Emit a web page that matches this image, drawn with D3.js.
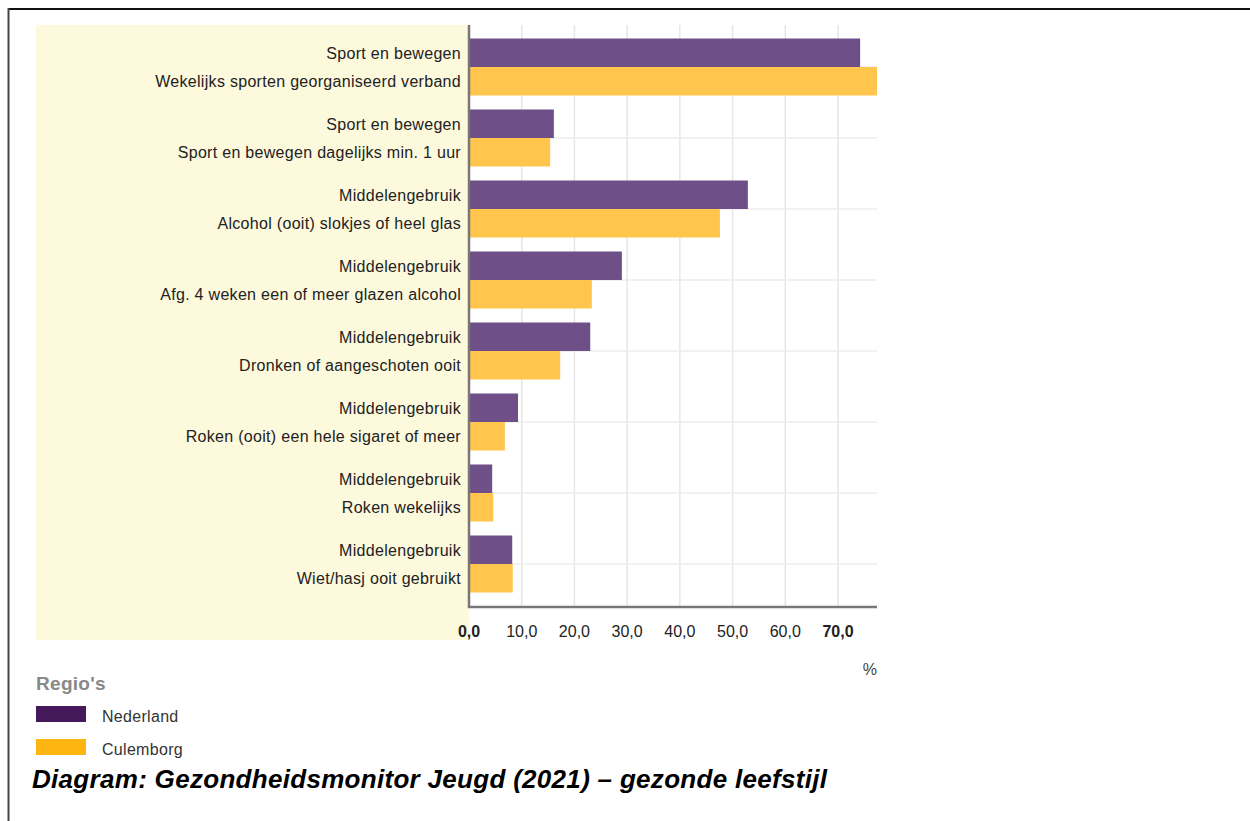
<html>
  <head>
   <script src="https://d3js.org/d3.v7.min.js"></script>
   <style>
    body{
    	margin:0;
    	background:#fff;
    }
    text{
    	font-family:"Liberation Sans", Arial, sans-serif;
    }
   </style>
  </head>
  <body>
  <div id="graph"></div>
   <script>
     var themes = ["Sport en bewegen","Sport en bewegen","Middelengebruik","Middelengebruik","Middelengebruik","Middelengebruik","Middelengebruik","Middelengebruik"];
     var indicators = ["Wekelijks sporten georganiseerd verband","Sport en bewegen dagelijks min. 1 uur","Alcohol (ooit) slokjes of heel glas","Afg. 4 weken een of meer glazen alcohol","Dronken of aangeschoten ooit","Roken (ooit) een hele sigaret of meer","Roken wekelijks","Wiet/hasj ooit gebruikt"];
     var regions = ["Nederland","Culemborg"];
     var nederland = [74.2, 16.1, 52.9, 29.0, 23.0, 9.3, 4.4, 8.2];
     var culemborg = [77.4, 15.4, 47.6, 23.3, 17.3, 6.8, 4.6, 8.3];
     var ticks = [0,10,20,30,40,50,60,70];

     var legendColor = ["#45195a","#ffb511"];
     var barColor = ["#6f4f87","#ffc54d"];

     var width = 1250, height = 821;
     var plotLeft = 469, plotRight = 877, plotTop = 25, axisY = 607;

     var svg = d3.select("#graph")
       .append('svg')
       .attr('width', width)
       .attr('height', height);

     // frame
     svg.append('line').attr('x1',8).attr('x2',width).attr('y1',9).attr('y2',9)
        .style('stroke','#111').style('stroke-width',2);
     svg.append('line').attr('x1',8.5).attr('x2',8.5).attr('y1',8).attr('y2',height)
        .style('stroke','#444').style('stroke-width',2);

     // label background
     svg.append('rect').attr('x',36).attr('y',plotTop).attr('width',plotLeft-36).attr('height',640-plotTop)
        .attr('fill','#fdf9dc');

     var x = d3.scaleLinear().domain([0,77.4]).range([plotLeft,plotRight]);
     var y = d3.scaleBand().domain(d3.range(themes.length)).range([31.5,599.5]);
     var ySub = d3.scaleBand().domain(regions).range([7, 64]);

     // vertical gridlines
     svg.append('g').selectAll('line').data(ticks.slice(1)).enter().append('line')
       .attr('x1', d => x(d)).attr('x2', d => x(d))
       .attr('y1', plotTop).attr('y2', axisY)
       .style('stroke','#e6e6e6').style('stroke-width',1.5);

     // horizontal gridlines
     svg.append('g').selectAll('line').data(d3.range(themes.length)).enter().append('line')
       .attr('x1', plotLeft).attr('x2', plotRight)
       .attr('y1', d => y(d) + y.bandwidth()/2).attr('y2', d => y(d) + y.bandwidth()/2)
       .style('stroke','#ececec').style('stroke-width',1.5);

     var series = [nederland, culemborg];
     var g = svg.append('g');
     regions.forEach(function(r, k){
       g.selectAll('rect.s'+k).data(series[k]).enter().append('rect')
         .attr('x', plotLeft)
         .attr('y', (d,i) => y(i) + ySub(r))
         .attr('width', d => x(d) - plotLeft)
         .attr('height', ySub.bandwidth())
         .attr('fill', barColor[k]);
     });

     // category labels
     var lab = svg.append('g').style('font-size','16px').style('letter-spacing','0.3px')
       .style('fill','#222').attr('text-anchor','end');
     lab.selectAll('text.t').data(themes).enter().append('text')
       .attr('x', 461).attr('y', (d,i) => y(i) + ySub("Nederland") + ySub.bandwidth()/2 + 6)
       .text(d => d);
     lab.selectAll('text.i').data(indicators).enter().append('text')
       .attr('x', 461).attr('y', (d,i) => y(i) + ySub("Culemborg") + ySub.bandwidth()/2 + 6)
       .text(d => d);

     // axes
     svg.append('line').attr('x1',plotLeft).attr('x2',plotLeft).attr('y1',plotTop).attr('y2',axisY+1)
        .style('stroke','#777').style('stroke-width',2.5);
     svg.append('line').attr('x1',plotLeft-1).attr('x2',plotRight).attr('y1',axisY).attr('y2',axisY)
        .style('stroke','#777').style('stroke-width',2.5);

     var fmt = d3.formatLocale({decimal:",", thousands:".", grouping:[3], currency:["",""]}).format(".1f");
     svg.append('g').selectAll('text').data(ticks).enter().append('text')
       .attr('x', d => x(d)).attr('y', 637).attr('text-anchor','middle')
       .style('font-size','16px').style('fill','#222')
       .style('font-weight', (d,i) => (i==0 || i==ticks.length-1) ? 'bold' : 'normal')
       .text(d => fmt(d));
     svg.append('text').attr('x',877).attr('y',675).attr('text-anchor','end')
       .style('font-size','16px').style('fill','#444').text('%');

     // legend
     svg.append('text').attr('x',36).attr('y',690).style('font-size','19px').style('letter-spacing','0.3px')
       .style('font-weight','bold').style('fill','#888').text("Regio's");
     var lg = svg.append('g').selectAll('g').data(regions).enter().append('g')
       .attr('transform', (d,i) => 'translate(36,' + (706 + i*33) + ')');
     lg.append('rect').attr('width',50).attr('height',16).attr('fill', (d,i) => legendColor[i]);
     lg.append('text').attr('x',66).attr('y',16).style('font-size','16px').style('letter-spacing','0.3px')
       .style('fill','#333').text(d => d);

     svg.append('text').attr('x',32).attr('y',788)
       .style('font-size','26px').style('letter-spacing','0.3px').style('font-weight','bold').style('font-style','italic').style('fill','#000')
       .text('Diagram: Gezondheidsmonitor Jeugd (2021) \u2013 gezonde leefstijl');
  </script>
 </body>
</html>
